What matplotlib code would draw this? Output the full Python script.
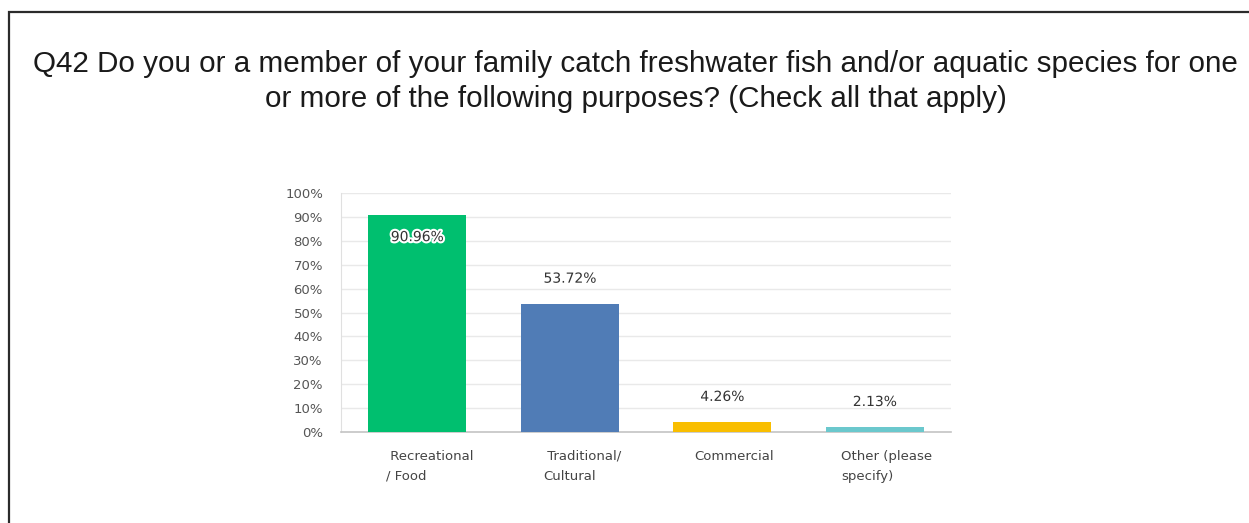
import numpy as np
import matplotlib.pyplot as plt
import matplotlib.patheffects as pe
from matplotlib.patches import Rectangle

# survey answers, percent of respondents
categories = [" Recreational\n/ Food", " Traditional/\nCultural", "Commercial", "Other (please\nspecify)"]
values = [90.96, 53.72, 4.26, 2.13]
colors = ["#00BF6F", "#507CB6", "#F9BE00", "#6BC8CD"]
yticks = np.arange(0, 101, 10)

title = ("Q42 Do you or a member of your family catch freshwater fish and/or aquatic species for one\n"
         "or more of the following purposes? (Check all that apply)")

fig = plt.figure(figsize=(12.49, 5.23), dpi=100)
fig.patch.set_facecolor("white")

# frame around the question block
fig.patches.append(Rectangle((9 / 1249, -0.1), 1.2, 1 - 12 / 523 + 0.1, transform=fig.transFigure,
                             fill=False, edgecolor="#2b2b2b", linewidth=1.6))

fig.text(0.509, 0.844, title, ha="center", va="center", fontsize=21.3,
         family="Liberation Sans", color="#1a1a1a", linespacing=1.3)

ax = fig.add_axes([341 / 1249, 1 - 432 / 523, 610 / 1249, 239 / 523])
x = np.arange(len(values))
bars = ax.bar(x, values, width=0.645, color=colors, zorder=3)

ax.set_xlim(-0.5, len(values) - 0.5)
ax.set_ylim(0, 100)
ax.set_yticks(yticks)
ax.set_yticklabels([f"{t}%" for t in yticks], fontsize=9.5, color="#555555")
ax.tick_params(axis="y", length=0, pad=13)
ax.set_xticks([])
ax.grid(axis="y", color="#e9e9e9", linewidth=1, zorder=0)
for s in ["top", "right"]:
    ax.spines[s].set_visible(False)
ax.spines["left"].set_color("#e0e0e0")
ax.spines["bottom"].set_color("#c4c4c4")
ax.spines["bottom"].set_linewidth(1.2)

halo = [pe.withStroke(linewidth=3, foreground="white")]
for xi, v in zip(x, values):
    if v > 85:
        y, va = v - 6.5, "top"
    else:
        y, va = v + 7.5, "bottom"
    ax.text(xi, y, f"{v:.2f}%", ha="center", va=va, fontsize=10, color="#333333",
            path_effects=halo, zorder=5)

# category labels below the axis
for xi, lab in zip(x, categories):
    ax.text(xi + 0.08, -7.5, lab, ha="center", va="top", multialignment="left",
            fontsize=9.5, color="#444444", linespacing=1.7)

fig.savefig("out.png", dpi=100)
